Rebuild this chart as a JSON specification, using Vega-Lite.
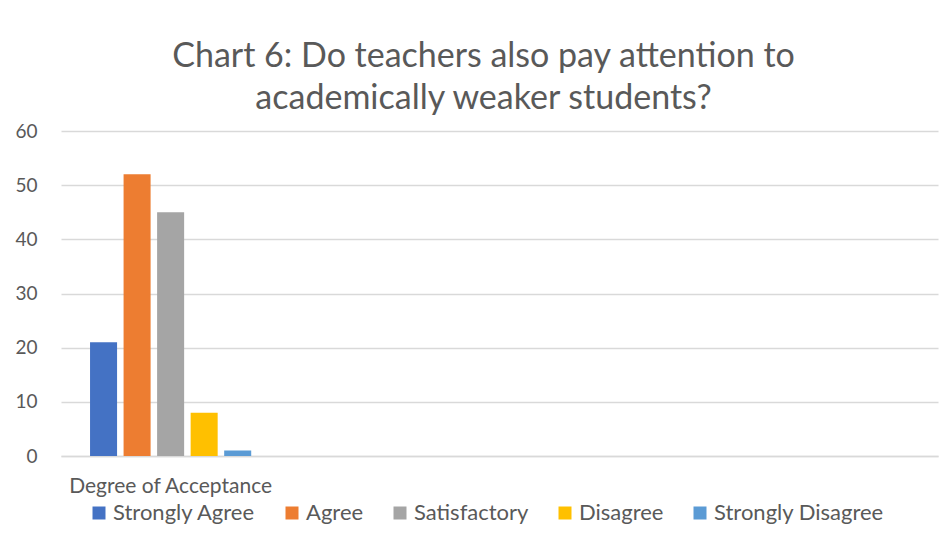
{
  "$schema": "https://vega.github.io/schema/vega-lite/v6.json",
  "width": 877,
  "height": 325,
  "autosize": {"type": "none"},
  "padding": {"left": 61, "top": 131, "right": 7, "bottom": 89},
  "background": "white",
  "title": {
    "text": ["Chart 6: Do teachers also pay attention to", "academically weaker students?"],
    "font": "Lato",
    "fontSize": 34,
    "fontWeight": "normal",
    "color": "#595959",
    "anchor": "middle",
    "dx": -16,
    "lineHeight": 42,
    "offset": 6
  },
  "data": {
    "values": [
      {"category": "Degree of Acceptance", "response": "Strongly Agree", "value": 21},
      {"category": "Degree of Acceptance", "response": "Agree", "value": 52},
      {"category": "Degree of Acceptance", "response": "Satisfactory", "value": 45},
      {"category": "Degree of Acceptance", "response": "Disagree", "value": 8},
      {"category": "Degree of Acceptance", "response": "Strongly Disagree", "value": 1}
    ]
  },
  "mark": {"type": "bar"},
  "encoding": {
    "x": {
      "field": "category",
      "type": "nominal",
      "scale": {"domain": ["Degree of Acceptance", "c2", "c3", "c4"], "paddingInner": 0, "paddingOuter": 0},
      "axis": {
        "title": null,
        "labelExpr": "datum.value == 'Degree of Acceptance' ? datum.value : ''",
        "labelAngle": 0,
        "labelFont": "Lato",
        "labelFontSize": 21,
        "labelColor": "#595959",
        "labelPadding": 19,
        "labelLimit": 0,
        "labelOverlap": false,
        "ticks": false,
        "domain": true,
        "domainColor": "#d9d9d9",
        "domainWidth": 1.5
      }
    },
    "xOffset": {
      "field": "response",
      "type": "nominal",
      "sort": ["Strongly Agree", "Agree", "Satisfactory", "Disagree", "Strongly Disagree"],
      "scale": {"paddingInner": 0.194, "paddingOuter": 0.866}
    },
    "y": {
      "field": "value",
      "type": "quantitative",
      "scale": {"domain": [0, 60]},
      "axis": {
        "title": null,
        "values": [0, 10, 20, 30, 40, 50, 60],
        "domain": false,
        "ticks": false,
        "grid": true,
        "gridColor": "#d9d9d9",
        "gridWidth": 1.5,
        "labelFont": "Lato",
        "labelFontSize": 19,
        "labelColor": "#595959",
        "labelPadding": 24
      }
    },
    "color": {
      "field": "response",
      "type": "nominal",
      "sort": ["Strongly Agree", "Agree", "Satisfactory", "Disagree", "Strongly Disagree"],
      "scale": {
        "domain": ["Strongly Agree", "Agree", "Satisfactory", "Disagree", "Strongly Disagree"],
        "range": ["#4472C4", "#ED7D31", "#A5A5A5", "#FFC000", "#5B9BD5"]
      },
      "legend": {
        "title": null,
        "orient": "none",
        "legendX": 27,
        "legendY": 371,
        "direction": "horizontal",
        "symbolType": "square",
        "symbolSize": 169,
        "symbolStrokeWidth": 0,
        "labelFont": "Lato",
        "labelFontSize": 22,
        "labelColor": "#595959",
        "labelOffset": 3,
        "columnPadding": 25,
        "labelLimit": 0
      }
    }
  },
  "config": {"view": {"stroke": null}}
}
